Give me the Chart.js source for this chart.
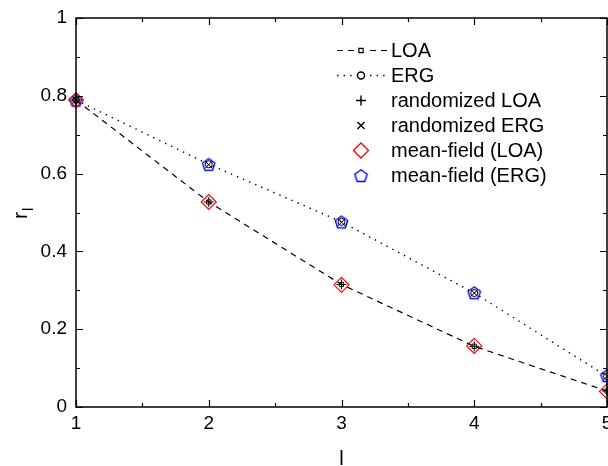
<!DOCTYPE html>
<html><head>
<meta charset="utf-8">
<script src="https://cdn.jsdelivr.net/npm/chart.js@4"></script>
<style>
html, body { margin: 0; padding: 0; background: #fff; }
#wrap { width: 608px; height: 466px; }
</style></head><body>
<div id="wrap"><canvas id="c" width="608" height="466"></canvas></div>
<script>
// l values on the x axis
const lValues = [1, 2, 3, 4, 5];
// r_l
const loaValues = [0.789, 0.527, 0.315, 0.156, 0.041];
const ergValues = [0.789, 0.624, 0.476, 0.293, 0.079];
const randLoaValues = [0.789, 0.527, 0.315, 0.156, 0.041];
const randErgValues = [0.789, 0.623, 0.475, 0.293, 0.079];
const mfLoaValues = [0.789, 0.527, 0.314, 0.157, 0.040];
const mfErgValues = [0.789, 0.624, 0.476, 0.294, 0.081];

const xTickLabels = ['1', '2', '3', '4', '5'];
const yTicks = [0, 0.2, 0.4, 0.6, 0.8, 1];
const yTickLabels = ['0', '0.2', '0.4', '0.6', '0.8', '1'];

const FONT = '"Liberation Sans", Arial, sans-serif';

// blue open pentagon used as a point style
function pentagon(r, color) {
  const size = Math.ceil(r * 2 + 4);
  const cv = document.createElement('canvas');
  cv.width = size; cv.height = size;
  const g = cv.getContext('2d');
  g.strokeStyle = color;
  g.lineWidth = 1.4;
  g.beginPath();
  for (let i = 0; i < 5; i++) {
    const a = -Math.PI / 2 + i * 2 * Math.PI / 5;
    const px = size / 2 + r * Math.cos(a);
    const py = size / 2 + 0.8 + r * Math.sin(a);
    if (i === 0) g.moveTo(px, py); else g.lineTo(px, py);
  }
  g.closePath();
  g.stroke();
  return cv;
}
const pentImg = pentagon(6.5, '#0000ff');

const pts = vals => lValues.map((x, i) => ({ x, y: vals[i] }));

const datasets = [
  { label: 'LOA', data: pts(loaValues), showLine: true, borderColor: '#000', borderWidth: 1.2,
    borderDash: [6, 5], pointStyle: 'rect', pointRadius: 3, pointBorderWidth: 1,
    pointBackgroundColor: 'rgba(0,0,0,0)', pointBorderColor: '#000', tension: 0 },
  { label: 'ERG', data: pts(ergValues), showLine: true, borderColor: '#000', borderWidth: 1.4,
    borderDash: [1.4, 5.2], pointStyle: 'circle', pointRadius: 3.5, pointBorderWidth: 1,
    pointBackgroundColor: 'rgba(0,0,0,0)', pointBorderColor: '#000', tension: 0 },
  { label: 'randomized LOA', data: pts(randLoaValues), showLine: false, pointStyle: 'cross',
    pointRadius: 5, pointBorderWidth: 1, pointBorderColor: '#000' },
  { label: 'randomized ERG', data: pts(randErgValues), showLine: false, pointStyle: 'crossRot',
    pointRadius: 5, pointBorderWidth: 1, pointBorderColor: '#000' },
  { label: 'mean-field (LOA)', data: pts(mfLoaValues), showLine: false, pointStyle: 'rectRot',
    pointRadius: 7.5, pointBorderWidth: 1.2, pointBorderColor: '#ff0000',
    pointBackgroundColor: 'rgba(0,0,0,0)' },
  { label: 'mean-field (ERG)', data: pts(mfErgValues), showLine: false, pointStyle: pentImg,
    pointRadius: 7, pointBorderColor: '#0000ff' },
];

// frame, inward ticks, x tick labels, axis titles and the in-plot legend
const decor = {
  id: 'decor',
  afterDraw(chart) {
    const { ctx, chartArea: a, scales: { x, y } } = chart;
    ctx.save();
    ctx.strokeStyle = '#000';
    ctx.lineWidth = 1.5;
    ctx.setLineDash([]);
    ctx.strokeRect(a.left, a.top, a.right - a.left, a.bottom - a.top);
    ctx.lineWidth = 1.2;
    ctx.beginPath();
    for (let v = 1; v <= 5.001; v += 0.5) {
      const px = Math.round(x.getPixelForValue(v)) + 0.5;
      const len = Math.abs(v - Math.round(v)) < 1e-6 ? 7 : 4;
      ctx.moveTo(px, a.bottom); ctx.lineTo(px, a.bottom - len);
      ctx.moveTo(px, a.top); ctx.lineTo(px, a.top + len);
    }
    for (let k = 0; k <= 10; k++) {
      const py = Math.round(y.getPixelForValue(k / 10)) + 0.5;
      const len = k % 2 === 0 ? 7 : 4;
      ctx.moveTo(a.left, py); ctx.lineTo(a.left + len, py);
      ctx.moveTo(a.right, py); ctx.lineTo(a.right - len, py);
    }
    ctx.stroke();

    ctx.fillStyle = '#000';
    // x tick labels (drawn here so the last one may run off the edge)
    ctx.font = '19px ' + FONT;
    ctx.textAlign = 'center';
    ctx.textBaseline = 'middle';
    lValues.forEach((v, i) => ctx.fillText(xTickLabels[i], x.getPixelForValue(v), a.bottom + 17));

    // axis titles
    ctx.textBaseline = 'alphabetic';
    ctx.font = '20px ' + FONT;
    ctx.fillText('l', (a.left + a.right) / 2, 465);
    ctx.save();
    ctx.translate(27, 219);
    ctx.rotate(-Math.PI / 2);
    ctx.textAlign = 'left';
    ctx.font = '21px ' + FONT;
    ctx.fillText('r', 0, 0);
    ctx.font = '15px ' + FONT;
    ctx.fillText('l', 8, 6);
    ctx.restore();

    // legend
    ctx.font = '20px ' + FONT;
    ctx.textAlign = 'left';
    ctx.textBaseline = 'middle';
    chart.data.datasets.forEach((ds, i) => {
      const cy = 50.5 + i * 25;
      if (ds.showLine) {
        ctx.strokeStyle = ds.borderColor;
        ctx.lineWidth = ds.borderWidth;
        ctx.setLineDash(ds.borderDash);
        ctx.beginPath();
        ctx.moveTo(337, cy); ctx.lineTo(387, cy);
        ctx.stroke();
        ctx.setLineDash([]);
        ctx.fillStyle = '#fff';
        ctx.fillRect(357, cy - 4, 8, 8);
      }
      ctx.strokeStyle = ds.pointBorderColor;
      ctx.fillStyle = 'rgba(0,0,0,0)';
      Chart.helpers.drawPoint(ctx, {
        pointStyle: ds.pointStyle, radius: ds.pointRadius,
        borderWidth: ds.pointBorderWidth || 1, rotation: 0,
      }, 361, cy);
      ctx.fillStyle = '#000';
      ctx.fillText(ds.label, 391, cy + 1);
    });
    ctx.restore();
  }
};

new Chart(document.getElementById('c'), {
  type: 'scatter',
  data: { datasets },
  options: {
    responsive: false,
    animation: false,
    layout: { autoPadding: false, padding: { top: 18, right: 1, left: 0, bottom: 0 } },
    datasets: { scatter: { clip: false } },
    plugins: { legend: { display: false }, tooltip: { enabled: false } },
    scales: {
      x: {
        type: 'linear', min: 1, max: 5,
        grid: { display: false, drawTicks: false },
        border: { display: false },
        ticks: { display: false, stepSize: 1 },
        afterFit: s => { s.height = 59; s.paddingLeft = 0; s.paddingRight = 0; }
      },
      y: {
        type: 'linear', min: 0, max: 1,
        grid: { display: false, drawTicks: false },
        border: { display: false },
        ticks: {
          stepSize: 0.2, padding: 9, color: '#000',
          font: { family: FONT, size: 19 },
          callback: v => {
            const i = yTicks.findIndex(t => Math.abs(t - v) < 1e-6);
            return i >= 0 ? yTickLabels[i] : '';
          }
        },
        afterFit: s => { s.width = 76; s.paddingTop = 0; s.paddingBottom = 0; }
      }
    }
  },
  plugins: [decor]
});
</script>
</body></html>
